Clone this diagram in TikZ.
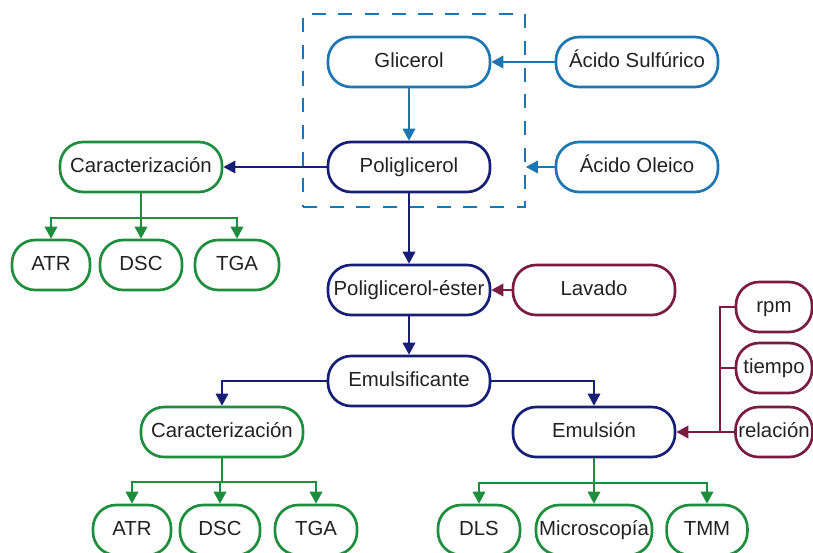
\documentclass[tikz,border=0pt]{standalone}
\usepackage{fontspec}
\setmainfont{Liberation Sans}
\usepackage{tikz}
\usetikzlibrary{
  arrows.meta,
  positioning
}
\definecolor{SkyBlue}{RGB}{28, 118, 178}
\definecolor{NavyBlue}{RGB}{22, 30, 118}
\definecolor{LeafGreen}{RGB}{30, 142, 62}
\definecolor{Wine}{RGB}{122, 28, 66}
\definecolor{DarkText}{RGB}{34, 34, 34}
\tikzset{
    caja/.style={rectangle, rounded corners=0.58cm, line width=1.9pt, fill=white,
        minimum height=1.25cm, minimum width=4.05cm, inner sep=2pt,
        text height=10.5pt, text depth=3pt,
        text=DarkText, font=\fontsize{14.5}{16}\selectfont},
    chica/.style={caja, minimum width=#1},
    flecha/.style={line width=0.9pt, -{Triangle[length=8.5pt,width=9pt]}},
    linea/.style={line width=0.9pt}
}

\begin{document}
\begin{tikzpicture}[x=0.025cm, y=-0.025cm]
    \useasboundingbox (0,0) rectangle (813,552);
    % bloque de sintesis
    \node[draw=SkyBlue, line width=1.2pt, dash pattern=on 10pt off 9pt,
          minimum width=5.55cm, minimum height=4.825cm] (marco) at (414,110.5) {};
    \node[caja, draw=SkyBlue] (glicerol) at (409,62) {Glicerol};
    \node[caja, draw=SkyBlue] (sulfurico) at (637,62) {Ácido Sulfúrico};
    \node[caja, draw=NavyBlue] (poliglicerol) at (409,167) {Poliglicerol};
    \node[caja, draw=SkyBlue] (oleico) at (637,167) {Ácido Oleico};
    % caracterizacion del poliglicerol
    \node[caja, draw=LeafGreen] (caract1) at (141,167) {Caracterización};
    \node[chica=1.95cm, draw=LeafGreen] (atr1) at (51,265) {ATR};
    \node[chica=2.05cm, draw=LeafGreen] (dsc1) at (141,265) {DSC};
    \node[chica=2.1cm, draw=LeafGreen] (tga1) at (237,265) {TGA};
    % ester y emulsificante
    \node[caja, draw=NavyBlue] (ester) at (409,290) {Poliglicerol-éster};
    \node[caja, draw=Wine] (lavado) at (594,290) {Lavado};
    \node[caja, draw=NavyBlue] (emulsificante) at (409,381) {Emulsificante};
    \node[caja, draw=LeafGreen] (caract2) at (222,432) {Caracterización};
    \node[caja, draw=NavyBlue] (emulsion) at (594,432) {Emulsión};
    % variables de la emulsion
    \node[chica=1.9cm, draw=Wine] (rpm) at (774,307) {rpm};
    \node[chica=1.9cm, draw=Wine] (tiempo) at (774,368) {tiempo};
    \node[chica=1.9cm, draw=Wine] (relacion) at (774,432) {relación};
    % tecnicas finales
    \node[chica=1.95cm, draw=LeafGreen] (atr2) at (132,530) {ATR};
    \node[chica=2cm, draw=LeafGreen] (dsc2) at (220,530) {DSC};
    \node[chica=2.05cm, draw=LeafGreen] (tga2) at (316,530) {TGA};
    \node[chica=2.05cm, draw=LeafGreen] (dls) at (479,530) {DLS};
    \node[chica=2.9cm, draw=LeafGreen] (micro) at (594,530) {Microscopía};
    \node[chica=2.02cm, draw=LeafGreen] (tmm) at (707,530) {TMM};

    % conectores
    \draw[flecha, SkyBlue] (sulfurico.west) -- (glicerol.east);
    \draw[flecha, SkyBlue] (glicerol.south) -- (poliglicerol.north);
    \draw[flecha, SkyBlue] (oleico.west) -- (oleico.west -| marco.east);
    \draw[flecha, NavyBlue] (poliglicerol.west) -- (caract1.east);
    \draw[flecha, NavyBlue] (poliglicerol.south) -- (ester.north);
    \draw[flecha, Wine] (lavado.west) -- (ester.east);
    \draw[flecha, NavyBlue] (ester.south) -- (emulsificante.north);
    \draw[flecha, NavyBlue] (emulsificante.west) -| (caract2.north);
    \draw[flecha, NavyBlue] (emulsificante.east) -| (emulsion.north);
    \coordinate (junta) at (720,432);
    \draw[linea, Wine] (rpm.west) -| (junta);
    \draw[linea, Wine] (tiempo.west) -| (junta);
    \draw[flecha, Wine] (relacion.west) -- (emulsion.east);
    \coordinate (rama1) at (141,218);
    \coordinate (rama2) at (222,482);
    \coordinate (rama3) at (594,483);
    \foreach \n in {atr1,dsc1,tga1}
        \draw[flecha, LeafGreen] (caract1.south) -- (rama1) -| (\n.north);
    \foreach \n in {atr2,dsc2,tga2}
        \draw[flecha, LeafGreen] (caract2.south) -- (rama2) -| (\n.north);
    \foreach \n in {dls,micro,tmm}
        \draw[flecha, LeafGreen] (emulsion.south) -- (rama3) -| (\n.north);
\end{tikzpicture}
\end{document}
